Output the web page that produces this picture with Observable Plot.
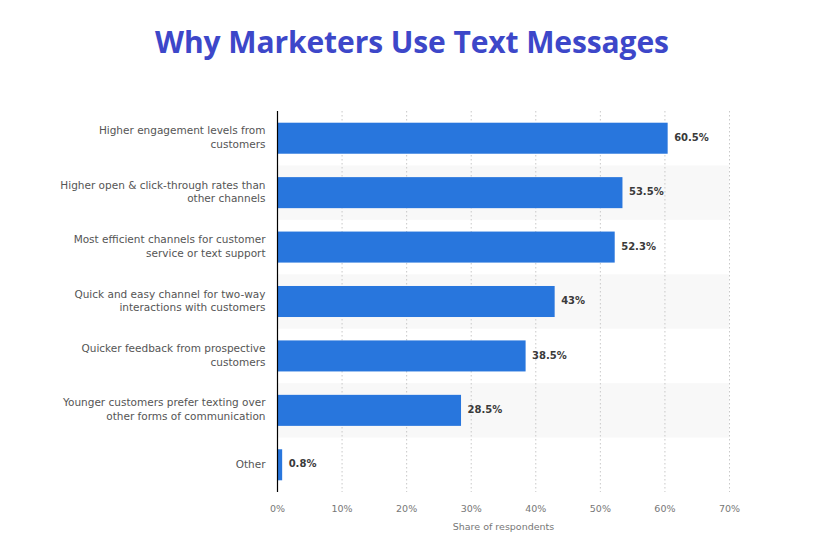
<!DOCTYPE html>
<html>
<head>
<meta charset="utf-8">
<script src="https://cdn.jsdelivr.net/npm/d3@7"></script>
<script src="https://cdn.jsdelivr.net/npm/@observablehq/plot@0.6"></script>
<style>
  html, body { margin: 0; padding: 0; background: #fff; }
  #title { height: 100px; box-sizing: border-box; padding-top: 21px; text-align: center;
    font-family: "Open Sans", sans-serif; font-weight: 700; font-size: 30px; color: #3d47c9; letter-spacing: -0.1px; }
  #chart svg { display: block; }
</style>
</head>
<body>
<div id="title">Why Marketers Use Text Messages</div>
<div id="chart"></div>
<script>
const categories = [
  "Higher engagement levels from\ncustomers",
  "Higher open & click-through rates than\nother channels",
  "Most efficient channels for customer\nservice or text support",
  "Quick and easy channel for two-way\ninteractions with customers",
  "Quicker feedback from prospective\ncustomers",
  "Younger customers prefer texting over\nother forms of communication",
  "Other"
];
const values = [60.5, 53.5, 52.3, 43, 38.5, 28.5, 0.8];
const valueLabels = ["60.5%", "53.5%", "52.3%", "43%", "38.5%", "28.5%", "0.8%"];
const xTicks = [0, 10, 20, 30, 40, 50, 60, 70];

const data = categories.map((c, i) => ({cat: c, value: values[i], label: valueLabels[i], idx: i}));
const bands = data.filter(d => d.idx % 2 === 1);

const font = "DejaVu Sans, sans-serif";
const chart = Plot.plot({
  width: 824,
  height: 452,
  marginTop: 11,
  marginBottom: 60,
  marginLeft: 277,
  marginRight: 95,
  style: {fontFamily: font, fontSize: "10px", color: "#666", background: "#fff"},
  x: {domain: [0, 70], ticks: xTicks, tickFormat: d => d + "%"},
  y: {domain: categories, paddingInner: 0.43, paddingOuter: 0.215, round: false, axis: null},
  marks: [
    Plot.barX(bands, {x1: 0, x2: 70, y: "cat", fill: "#f8f8f8", insetTop: -11.7, insetBottom: -11.7}),
    Plot.ruleX(xTicks.slice(1), {stroke: "#c8c8c8", strokeDasharray: "1.5,2.5", strokeWidth: 1}),
    Plot.barX(data, {x: "value", y: "cat", fill: "#2876dd"}),
    Plot.ruleX([0], {stroke: "#000", strokeWidth: 1.2}),
    Plot.text(data, {x: "value", y: "cat", text: "label", textAnchor: "start", dx: 6, dy: -1,
      fill: "#3a3a3a", fontWeight: "bold", fontSize: 10}),
    Plot.text(data, {x: 0, y: "cat", text: "cat", textAnchor: "end", dx: -12, dy: -2,
      fill: "#555", fontSize: 10.5, lineHeight: 1.3}),
    Plot.axisX({ticks: xTicks, tickFormat: d => d + "%", tickSize: 0, tickPadding: 13, fill: "#777", fontSize: 9.5, label: null}),
    Plot.text(["Share of respondents"], {frameAnchor: "bottom", dy: 37, fill: "#777", fontSize: 9.5})
  ]
});
document.getElementById("chart").appendChild(chart);
</script>
</body>
</html>
